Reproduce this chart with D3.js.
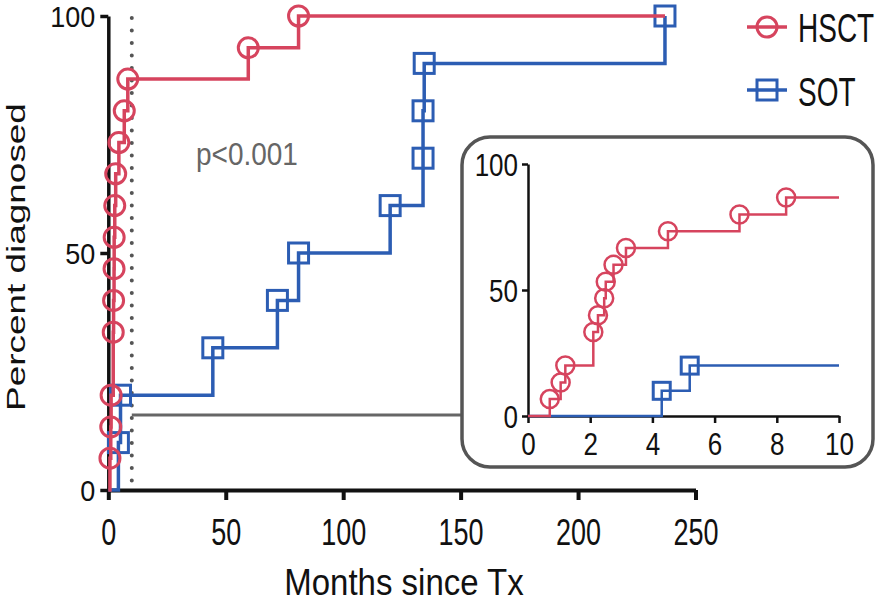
<html>
<head>
<script src="https://cdnjs.cloudflare.com/ajax/libs/d3/7.8.5/d3.min.js"></script>
<style>
body { margin: 0; background: white; }
svg text { font-family: "Liberation Sans", Arial, Helvetica, sans-serif; }
</style>
</head>
<body>
<svg id="canvas" width="886" height="602"></svg>
<script>
// months since transplant at each diagnosis, and cumulative percent diagnosed
var hsctTimes = [0.7, 1.05, 1.2, 2.1, 2.25, 2.45, 2.5, 2.75, 3.15, 4.5, 6.8, 8.3, 59.6, 81];
var hsctPct   = [6.7, 13.3, 20, 33.3, 40, 46.7, 53.3, 60, 66.7, 73.3, 80, 86.7, 93.3, 100];
var sotTimes  = [4.3, 5.2, 44.5, 72, 81, 120, 134, 134, 134.5, 237];
var sotPct    = [10, 20, 30, 40, 50, 60, 70, 80, 90, 100];
var followUp  = 237;
var insetMax  = 10;

var mainTicksX  = [0, 50, 100, 150, 200, 250];
var mainTicksY  = [0, 50, 100];
var insetTicksX = [0, 2, 4, 6, 8, 10];
var insetTicksY = [0, 50, 100];

var red = "#d6445e", blue = "#2c5db3";

var svg = d3.select("#canvas");

// main scales
var x = d3.scaleLinear().domain([0, 250]).range([108.3, 695.5]);
var y = d3.scaleLinear().domain([0, 100]).range([490, 16]);

// inset scales
var xi = d3.scaleLinear().domain([0, 10]).range([528, 839]);
var yi = d3.scaleLinear().domain([0, 100]).range([416, 164]);

function steps(times, pct, end) {
    var pts = [[0, 0]];
    times.forEach(function(t, i) { pts.push([t, pct[i]]); });
    pts.push([end, pct[pct.length - 1]]);
    return pts;
}
function clipSteps(pts, tmax) {
    var out = [];
    var last = 0;
    pts.forEach(function(p) {
        if (p[0] <= tmax) { out.push(p); last = p[1]; }
    });
    out.push([tmax, last]);
    return out;
}

function stretchText(g, tx, ty, str, size, sy, anchor, fill) {
    return g.append("text")
        .attr("transform", "translate(" + tx + "," + ty + ") scale(1," + sy + ")")
        .attr("text-anchor", anchor)
        .attr("font-size", size)
        .attr("fill", fill || "#111")
        .text(str);
}

function styleAxis(g, width, sy, tx, ty, size) {
    g.select(".domain").attr("stroke", "#111").attr("stroke-width", width);
    g.selectAll(".tick line").attr("stroke", "#111").attr("stroke-width", width);
    g.selectAll(".tick text")
        .attr("fill", "#111")
        .attr("font-size", size)
        .attr("font-family", "Liberation Sans, Arial, sans-serif")
        .attr("x", tx)
        .attr("dy", 0)
        .attr("y", ty / sy)
        .attr("transform", "scale(1," + sy + ")");
}

var hsct = steps(hsctTimes, hsctPct, followUp);
var sot = steps(sotTimes, sotPct, followUp);

// dotted line at 10 months and connector to the inset
svg.append("line")
    .attr("x1", x(insetMax)).attr("x2", x(insetMax))
    .attr("y1", 18).attr("y2", y(0))
    .attr("stroke", "#555").attr("stroke-width", 4)
    .attr("stroke-linecap", "round")
    .attr("stroke-dasharray", "0.1,12.4");
svg.append("line")
    .attr("x1", x(insetMax)).attr("x2", 462)
    .attr("y1", 415).attr("y2", 415)
    .attr("stroke", "#666").attr("stroke-width", 3);

// main axes
var gx = svg.append("g").attr("transform", "translate(0," + y(0) + ")")
    .call(d3.axisBottom(x).tickValues(mainTicksX).tickSize(10).tickSizeOuter(0));
styleAxis(gx, 4, 1.4, 0, 55, 27);
var gy = svg.append("g").attr("transform", "translate(" + x(0) + ",0)")
    .call(d3.axisLeft(y).tickValues(mainTicksY).tickSize(8).tickSizeOuter(0));
styleAxis(gy, 3.5, 1.1, -13, 10, 27);

// main curves
var line = d3.line().curve(d3.curveStepAfter)
    .x(function(d) { return x(d[0]); })
    .y(function(d) { return y(d[1]); });

svg.append("path").datum(sot).attr("d", line)
    .attr("fill", "none").attr("stroke", blue).attr("stroke-width", 3.5);
svg.selectAll(".sotmark").data(sotTimes).enter().append("rect")
    .attr("x", function(d) { return x(d) - 10; })
    .attr("y", function(d, i) { return y(sotPct[i]) - 10; })
    .attr("width", 20).attr("height", 20)
    .attr("fill", "none").attr("stroke", blue).attr("stroke-width", 3);

svg.append("path").datum(hsct).attr("d", line)
    .attr("fill", "none").attr("stroke", red).attr("stroke-width", 3.5);
svg.selectAll(".hsctmark").data(hsctTimes).enter().append("circle")
    .attr("cx", function(d) { return x(d); })
    .attr("cy", function(d, i) { return y(hsctPct[i]); })
    .attr("r", 10)
    .attr("fill", "none").attr("stroke", red).attr("stroke-width", 3);

// titles
svg.append("text")
    .attr("transform", "translate(25,257) rotate(-90) scale(1.42,1)")
    .attr("text-anchor", "middle")
    .attr("font-size", 26)
    .attr("fill", "#111")
    .text("Percent diagnosed");
stretchText(svg, 404, 595, "Months since Tx", 33, 1.12, "middle");
stretchText(svg, 196, 165, "p<0.001", 28, 1.15, "start", "#666");

// legend
var legend = [
    { name: "HSCT", color: red, shape: "circle", cy: 27, base: 42 },
    { name: "SOT", color: blue, shape: "rect", cy: 90, base: 106 }
];
legend.forEach(function(l) {
    svg.append("line")
        .attr("x1", 747).attr("x2", 787)
        .attr("y1", l.cy).attr("y2", l.cy)
        .attr("stroke", l.color).attr("stroke-width", 3.5);
    if (l.shape === "circle") {
        svg.append("circle").attr("cx", 767).attr("cy", l.cy).attr("r", 10)
            .attr("fill", "none").attr("stroke", l.color).attr("stroke-width", 3);
    } else {
        svg.append("rect").attr("x", 757).attr("y", l.cy - 10)
            .attr("width", 20).attr("height", 20)
            .attr("fill", "none").attr("stroke", l.color).attr("stroke-width", 3);
    }
    stretchText(svg, 798, l.base, l.name, 28, 1.45, "start");
});

// inset
svg.append("rect")
    .attr("x", 462).attr("y", 137).attr("width", 411).attr("height", 330)
    .attr("rx", 28).attr("ry", 28)
    .attr("fill", "white").attr("stroke", "#555").attr("stroke-width", 3.5);

var gxi = svg.append("g").attr("transform", "translate(0," + yi(0) + ")")
    .call(d3.axisBottom(xi).tickValues(insetTicksX).tickSize(7).tickSizeOuter(0));
styleAxis(gxi, 2.5, 1.2, 0, 39, 26);
var gyi = svg.append("g").attr("transform", "translate(" + xi(0) + ",0)")
    .call(d3.axisLeft(yi).tickValues(insetTicksY).tickSize(6).tickSizeOuter(0));
styleAxis(gyi, 2.5, 1.2, -10, 11, 26);

var linei = d3.line().curve(d3.curveStepAfter)
    .x(function(d) { return xi(d[0]); })
    .y(function(d) { return yi(d[1]); });

var sotIn = clipSteps(sot, insetMax);
var hsctIn = clipSteps(hsct, insetMax);

svg.append("path").datum(sotIn).attr("d", linei)
    .attr("fill", "none").attr("stroke", blue).attr("stroke-width", 2.5);
svg.selectAll(".sotin").data(sotTimes.filter(function(d) { return d <= insetMax; })).enter().append("rect")
    .attr("x", function(d) { return xi(d) - 8.5; })
    .attr("y", function(d, i) { return yi(sotPct[i]) - 8.5; })
    .attr("width", 17).attr("height", 17)
    .attr("fill", "none").attr("stroke", blue).attr("stroke-width", 3);

svg.append("path").datum(hsctIn).attr("d", linei)
    .attr("fill", "none").attr("stroke", red).attr("stroke-width", 2.5);
svg.selectAll(".hsctin").data(hsctTimes.filter(function(d) { return d <= insetMax; })).enter().append("circle")
    .attr("cx", function(d) { return xi(d); })
    .attr("cy", function(d, i) { return yi(hsctPct[i]); })
    .attr("r", 9)
    .attr("fill", "none").attr("stroke", red).attr("stroke-width", 2.5);
</script>
</body>
</html>
